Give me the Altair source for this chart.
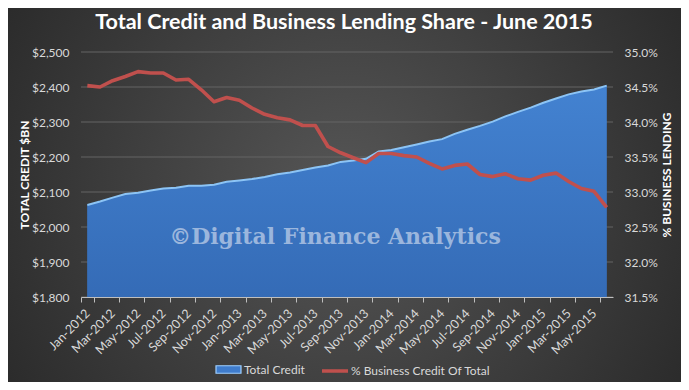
import altair as alt
import pandas as pd

months = [
    "Jan-2012", "Feb-2012", "Mar-2012", "Apr-2012", "May-2012", "Jun-2012",
    "Jul-2012", "Aug-2012", "Sep-2012", "Oct-2012", "Nov-2012", "Dec-2012",
    "Jan-2013", "Feb-2013", "Mar-2013", "Apr-2013", "May-2013", "Jun-2013",
    "Jul-2013", "Aug-2013", "Sep-2013", "Oct-2013", "Nov-2013", "Dec-2013",
    "Jan-2014", "Feb-2014", "Mar-2014", "Apr-2014", "May-2014", "Jun-2014",
    "Jul-2014", "Aug-2014", "Sep-2014", "Oct-2014", "Nov-2014", "Dec-2014",
    "Jan-2015", "Feb-2015", "Mar-2015", "Apr-2015", "May-2015", "Jun-2015",
]
total_credit = [
    2063, 2073, 2084, 2094, 2098, 2104, 2110, 2112, 2118, 2118, 2121, 2129,
    2133, 2137, 2143, 2151, 2156, 2163, 2170, 2176, 2186, 2190, 2195, 2216,
    2220, 2228, 2236, 2244, 2251, 2266, 2278, 2289, 2301, 2316, 2329, 2341,
    2355, 2367, 2379, 2387, 2393, 2404,
]
business_share = [
    34.52, 34.50, 34.59, 34.65, 34.72, 34.70, 34.70, 34.60, 34.61, 34.46, 34.29, 34.35,
    34.31, 34.20, 34.11, 34.06, 34.03, 33.95, 33.95, 33.65, 33.56, 33.49, 33.42, 33.55,
    33.55, 33.52, 33.50, 33.41, 33.33, 33.38, 33.40, 33.25, 33.22, 33.26, 33.19, 33.17,
    33.24, 33.27, 33.15, 33.05, 33.01, 32.78,
]
x_label_months = months[::2]
credit_ticks = [1800, 1900, 2000, 2100, 2200, 2300, 2400, 2500]
share_ticks = [31.5, 32.0, 32.5, 33.0, 33.5, 34.0, 34.5, 35.0]
series_names = ["Total Credit", "% Business Credit Of Total"]
title_text = "Total Credit and Business Lending Share - June 2015"
watermark = "\u00a9Digital Finance Analytics"

W, H = 532, 245
PAD = {"left": 73, "top": 44, "right": 68, "bottom": 85}

df = pd.DataFrame({
    "month": months,
    "credit": total_credit,
    "share": business_share,
    "s1": series_names[0],
    "s2": series_names[1],
})
grid_df = pd.DataFrame({"credit": credit_ticks})

FONT = "Lato"
LABEL = "#d9d9d9"

xenc = alt.X(
    "month:O",
    bandPosition=0.5,
    scale=alt.Scale(type="band", domain=months, paddingInner=0, paddingOuter=0),
    axis=alt.Axis(
        values=x_label_months, title=None, tickBand="extent",
        labelAngle=315, labelAlign="right", labelBaseline="middle",
        labelColor=LABEL, labelFont=FONT, labelFontSize=12.5, labelPadding=9,
        labelOverlap=False, labelBound=False,
        domainColor="#bfbfbf", tickColor="#bfbfbf", tickSize=5, grid=False, zindex=1,
    ),
)

bg = alt.Chart(alt.Data(values=[{}])).mark_rect(
    fill=alt.RadialGradient(
        gradient="radial",
        stops=[alt.GradientStop(color="#565656", offset=0),
               alt.GradientStop(color="#1f1f1f", offset=1)],
        x1=0.5, y1=0.5, x2=0.5, y2=0.5, r1=0, r2=0.74,
    )
).encode(
    x=alt.value(-PAD["left"]), x2=alt.value(W + PAD["right"]),
    y=alt.value(-PAD["top"]), y2=alt.value(H + PAD["bottom"]),
)

yleft = alt.Y(
    "credit:Q",
    scale=alt.Scale(domain=[1800, 2500], zero=False, nice=False),
    axis=alt.Axis(
        values=credit_ticks, format="$,.0f", title="TOTAL CREDIT $BN",
        titleColor="white", titleFont=FONT, titleFontSize=12, titleFontWeight="bold",
        titleX=-57, titleY=H / 2, titleAngle=270, titleAlign="center", titleBaseline="middle",
        labelColor=LABEL, labelFont=FONT, labelFontSize=12, labelPadding=12,
        domain=False, ticks=False, grid=False, zindex=1,
    ),
)

grid = alt.Chart(grid_df).mark_rule(color="#646464", strokeWidth=1).encode(y=yleft)

area_legend = alt.Chart(df).mark_area(opacity=1).encode(
    x=xenc, y=yleft, y2=alt.datum(1800),
    fill=alt.Fill(
        "s1:N",
        scale=alt.Scale(domain=[series_names[0]], range=["#3f7ccc"]),
        legend=alt.Legend(
            title=None, orient="none", legendX=134, legendY=304, direction="horizontal",
            symbolType="M-1,-0.3H1V0.3H-1Z", symbolSize=625,
            symbolStrokeColor="#9fd0ff", symbolStrokeWidth=1.2,
            labelColor=LABEL, labelFont=FONT, labelFontSize=12, labelOffset=2, padding=0,
        ),
    ),
)

area_main = alt.Chart(df).mark_area(
    fill=alt.LinearGradient(
        gradient="linear",
        stops=[alt.GradientStop(color="#4585d3", offset=0),
               alt.GradientStop(color="#3064ad", offset=1)],
        x1=0, x2=0, y1=0, y2=1,
    ),
    line=alt.OverlayMarkDef(color="#8cc4f5", strokeWidth=2),
).encode(x=xenc, y=yleft, y2=alt.datum(1800))

areas = alt.layer(grid, area_legend, area_main)

share_line = alt.Chart(df).mark_line(strokeWidth=3.6, strokeJoin="round").encode(
    x=xenc,
    y=alt.Y(
        "share:Q",
        scale=alt.Scale(domain=[31.5, 35.0], zero=False, nice=False),
        axis=alt.Axis(
            orient="right", values=share_ticks,
            labelExpr="format(datum.value, '.1f') + '%'",
            title="% BUSINESS LENDING",
            titleColor="white", titleFont=FONT, titleFontSize=12, titleFontWeight="bold",
            titleX=53, titleY=H / 2, titleAngle=270, titleAlign="center", titleBaseline="middle",
            labelColor=LABEL, labelFont=FONT, labelFontSize=12, labelPadding=11,
            domain=False, ticks=False, grid=False, zindex=1,
        ),
    ),
    stroke=alt.Stroke(
        "s2:N",
        scale=alt.Scale(domain=[series_names[1]], range=["#c0504d"]),
        legend=alt.Legend(
            title=None, orient="none", legendX=239, legendY=304, direction="horizontal",
            symbolType="stroke", symbolSize=676, symbolStrokeWidth=3.5,
            labelColor=LABEL, labelFont=FONT, labelFontSize=12, labelOffset=1, padding=0,
        ),
    ),
)

wm = alt.Chart(alt.Data(values=[{"t": watermark}])).mark_text(
    font="DejaVu Serif", fontWeight="bold", fontSize=22, color="#adc3e3", opacity=0.85,
    align="center", baseline="middle",
).encode(text="t:N", x=alt.value(254), y=alt.value(185))

ttl = alt.Chart(alt.Data(values=[{"t": title_text}])).mark_text(
    font=FONT, fontWeight="bold", fontSize=21.5, color="white",
    align="center", baseline="alphabetic",
).encode(text="t:N", x=alt.value(W / 2 - 3), y=alt.value(-23))

chart = alt.layer(bg, areas, share_line, wm, ttl).resolve_scale(
    y="independent", fill="independent", stroke="independent"
).properties(
    width=W, height=H,
    padding=PAD,
    autosize=alt.AutoSizeParams(type="none"),
    background="#2a2a2a",
).configure_view(stroke=None)

chart.save("out.html", embed_options={"renderer": "svg", "actions": False})
